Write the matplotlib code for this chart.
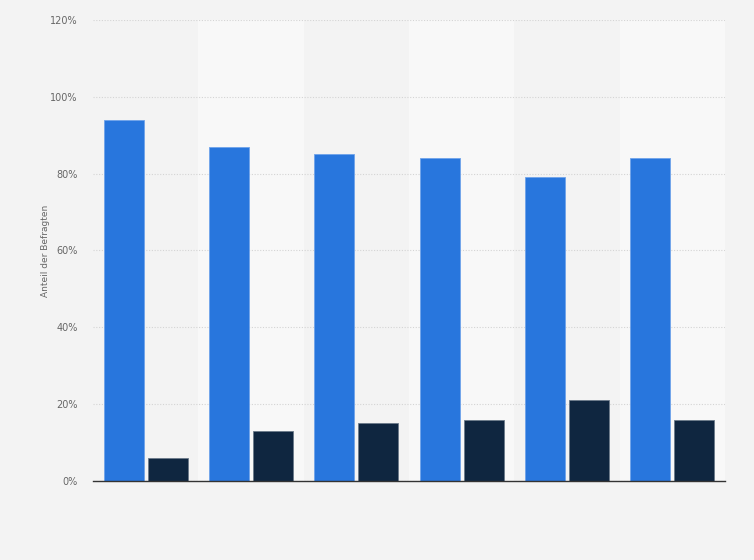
import matplotlib
matplotlib.use("Agg")
import matplotlib.pyplot as plt
import numpy as np

# values (percent)
categories = ["1", "2", "3", "4", "5", "6"]
series_a = [94, 87, 85, 84, 79, 84]
series_b = [6, 13, 15, 16, 21, 16]
yticks = [0, 20, 40, 60, 80, 100, 120]

BG = "#f3f3f3"
BAND = "#f8f8f8"
BLUE = "#2876dd"
DARK = "#0f2640"

fig = plt.figure(figsize=(7.54, 5.6), dpi=100, facecolor=BG)
ax = fig.add_axes([0.1233, 0.1411, 0.8382, 0.8232])
ax.set_facecolor(BG)

x = np.arange(len(categories))
for i in x:
    if i % 2 == 1:
        ax.axvspan(i - 0.5, i + 0.5, color=BAND, zorder=0, lw=0)

w = 0.38
ax.bar(x - 0.21, series_a, width=w, color=BLUE, edgecolor="#6fa3ea", linewidth=0.6, zorder=3)
ax.bar(x + 0.21, series_b, width=w, color=DARK, edgecolor="#6b7a8a", linewidth=0.6, zorder=3)

ax.set_xlim(-0.5, len(categories) - 0.5)
ax.set_ylim(0, 120)
ax.set_yticks(yticks)
ax.set_yticklabels([f"{t}%" for t in yticks], fontsize=7, color="#666666")
ax.set_xticks([])
ax.tick_params(axis="y", length=0, pad=11)
ax.grid(True, axis="y", color="#d4d4d4", linestyle=(0, (1, 1.5)), linewidth=0.8, zorder=1)
ax.set_axisbelow(True)
for side in ["top", "right", "left"]:
    ax.spines[side].set_visible(False)
ax.spines["bottom"].set_color("#333333")
ax.spines["bottom"].set_linewidth(1.0)
ax.spines["bottom"].set_zorder(4)

ax.set_ylabel("Anteil der Befragten", fontsize=6.5, color="#666666", labelpad=0)

plt.savefig("out.png", dpi=100, facecolor=BG)
plt.close(fig)
